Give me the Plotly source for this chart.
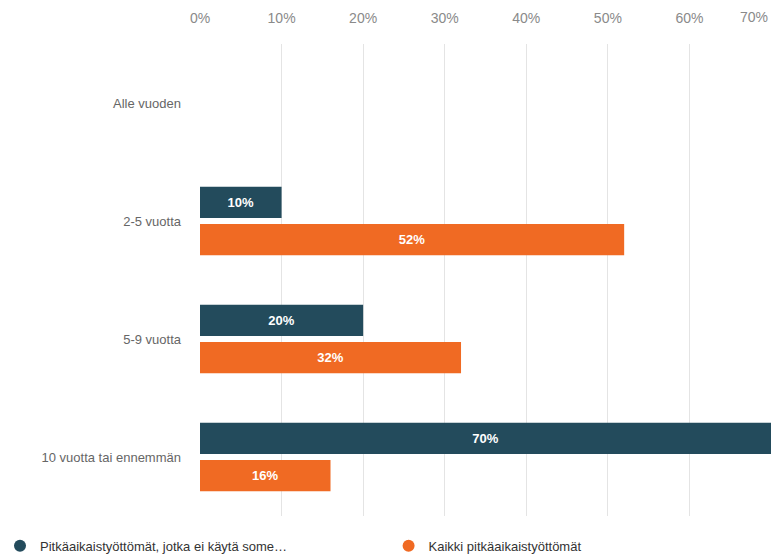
import plotly.graph_objects as go

# Ikäryhmät (y-akselin luokat)
categories = ["Alle vuoden", "2-5 vuotta", "5-9 vuotta", "10 vuotta tai ennemmän"]

# Sarjat, prosentteina
series_names = ["Pitkäaikaistyöttömät, jotka ei käytä some…", "Kaikki pitkäaikaistyöttömät"]
no_some = [None, 10, 20, 70]
all_ltu = [None, 52, 32, 16]

tick_vals = [0, 10, 20, 30, 40, 50, 60, 70]
tick_text = ["0%", "10%", "20%", "30%", "40%", "50%", "60%", "70%"]

colors = ["#234b5c", "#f06a23"]
font_family = "Liberation Sans, Arial, sans-serif"
legend_ids = ["legend", "legend2"]

fig = go.Figure()
for name, vals, col, lg in zip(series_names, [no_some, all_ltu], colors, legend_ids):
    fig.add_trace(go.Bar(
        y=categories, x=vals, orientation="h", name=name,
        marker=dict(color=col, line=dict(width=0)),
        text=[None if v is None else f"{v}%" for v in vals],
        textposition="inside", insidetextanchor="middle",
        textfont=dict(family=font_family, size=13, color="white", weight="bold"),
        showlegend=False, cliponaxis=False,
    ))
    # legend entry with a round marker
    fig.add_trace(go.Scatter(
        x=[None], y=[None], mode="markers", name=name, legend=lg,
        marker=dict(symbol="circle", size=12, color=col),
    ))

# last tick label sits inside the plot edge, right-aligned
fig.add_annotation(
    x=tick_vals[-1], xref="x", y=1, yref="paper", yanchor="bottom",
    xanchor="right", yshift=17, xshift=-1, text=tick_text[-1], showarrow=False,
    font=dict(family=font_family, size=14, color="#8a8a8a"),
)

legend_style = dict(
    orientation="h", xref="container", yref="container",
    y=0.022, xanchor="left", yanchor="middle",
    font=dict(family=font_family, size=13, color="#333333"),
    itemsizing="constant",
)

fig.update_layout(
    width=771, height=558,
    margin=dict(l=200, r=0, t=44, b=42),
    plot_bgcolor="white", paper_bgcolor="white",
    barmode="group", bargap=0.37, bargroupgap=0.16,
    font=dict(family=font_family),
    xaxis=dict(
        side="top", range=[0, 70], tickvals=tick_vals[:-1], ticktext=tick_text[:-1],
        showgrid=True, gridcolor="#e4e4e4", gridwidth=1, zeroline=False,
        ticks="", ticklabelstandoff=17,
        tickfont=dict(family=font_family, size=14, color="#8a8a8a"),
        showline=False, fixedrange=True,
    ),
    yaxis=dict(
        autorange="reversed", showgrid=False, zeroline=False, showline=False,
        ticks="", ticklabelstandoff=18,
        tickfont=dict(family=font_family, size=13, color="#666666"),
    ),
    legend=dict(x=0.0, **legend_style),
    legend2=dict(x=0.504, **legend_style),
)

fig.write_html("out.html")
